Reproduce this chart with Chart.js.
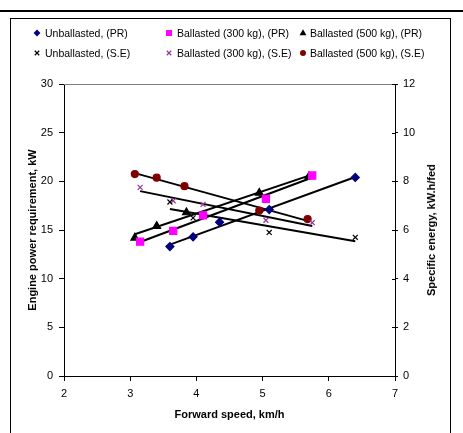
<!DOCTYPE html>
<html><head><meta charset="utf-8">
<script src="https://cdn.jsdelivr.net/npm/chart.js@4.4.1/dist/chart.umd.min.js"></script>
<style>
html,body{margin:0;padding:0;background:#fff;width:463px;height:433px;overflow:hidden;font-family:"Liberation Sans",Arial,sans-serif;}
#topline{position:absolute;left:0;top:10px;width:463px;height:2px;background:#000;}
#frame{position:absolute;left:10px;top:18px;width:439px;height:440px;border:1px solid #000;}
#wrap{position:absolute;left:0;top:0;width:463px;height:433px;}
.leg{position:absolute;font-size:10.5px;line-height:12px;color:#000;white-space:nowrap;}
#rtitle{position:absolute;font-weight:bold;font-size:11px;white-space:nowrap;color:#000;left:431px;top:230px;transform:translate(-50%,-50%) rotate(-90deg);}
</style></head>
<body>
<div id="topline"></div>
<div id="frame"></div>
<div id="wrap"><canvas id="c" width="463" height="433"></canvas></div>
<div class="leg" style="left:45px;top:27px">Unballasted, (PR)</div>
<div class="leg" style="left:177px;top:27px">Ballasted (300 kg), (PR)</div>
<div class="leg" style="left:310px;top:27px">Ballasted (500 kg), (PR)</div>
<div class="leg" style="left:45px;top:47px">Unballasted, (S.E)</div>
<div class="leg" style="left:177px;top:47px">Ballasted (300 kg), (S.E)</div>
<div class="leg" style="left:310px;top:47px">Ballasted (500 kg), (S.E)</div>
<div id="rtitle">Specific energy, kW.h/fed</div>
<script>
// ---- data ----
const xTicks = [2, 3, 4, 5, 6, 7];
const powerTicks = [0, 5, 10, 15, 20, 25, 30];
const energyTicks = [0, 2, 4, 6, 8, 10, 12];

const speedUnPR   = [3.6, 3.95, 4.35, 5.1, 6.4];
const powerUnPR   = [13.3, 14.3, 15.8, 17.1, 20.4];
const speed300PR  = [3.15, 3.65, 4.1, 5.05, 5.75];
const power300PR  = [13.8, 14.9, 16.5, 18.2, 20.6];
const speed500PR  = [3.07, 3.4, 3.85, 4.95, 5.7];
const power500PR  = [14.2, 15.4, 16.8, 18.8, 20.5];

const speedUnSE   = [3.6, 3.95, 5.1, 6.4];
const energyUnSE  = [7.15, 6.5, 5.9, 5.7];
const speed300SE  = [3.15, 3.65, 4.1, 5.05, 5.75];
const energy300SE = [7.75, 7.2, 7.05, 6.4, 6.3];
const speed500SE  = [3.07, 3.4, 3.82, 4.95, 5.68];
const energy500SE = [8.3, 8.15, 7.8, 6.8, 6.45];

const seriesNames = ['Unballasted, (PR)','Ballasted (300 kg), (PR)','Ballasted (500 kg), (PR)',
                     'Unballasted, (S.E)','Ballasted (300 kg), (S.E)','Ballasted (500 kg), (S.E)'];

// ---- helpers ----
function pts(xs, ys){ return xs.map((x,i)=>({x:x, y:ys[i]})); }
function trend(xs, ys){
  const n = xs.length;
  let sx=0, sy=0, sxx=0, sxy=0;
  for(let i=0;i<n;i++){ sx+=xs[i]; sy+=ys[i]; sxx+=xs[i]*xs[i]; sxy+=xs[i]*ys[i]; }
  const b = (n*sxy - sx*sy)/(n*sxx - sx*sx);
  const a = (sy - b*sx)/n;
  const x0 = Math.min(...xs), x1 = Math.max(...xs);
  return [{x:x0, y:a+b*x0}, {x:x1, y:a+b*x1}];
}

const FONT = '"Liberation Sans", Arial, sans-serif';
Chart.defaults.font.family = FONT;
Chart.defaults.font.size = 11;
Chart.defaults.color = '#000';

const series = [
  {xs:speedUnPR, ys:powerUnPR, axis:'y', style:'rectRot', r:4, c:'#000080'},
  {xs:speed300PR, ys:power300PR, axis:'y', style:'rect', r:5, c:'#FF00FF'},
  {xs:speed500PR, ys:power500PR, axis:'y', style:'triangle', r:4.5, c:'#000000'},
  {xs:speedUnSE, ys:energyUnSE, axis:'y2', style:'crossRot', r:3.5, c:'#000000'},
  {xs:speed300SE, ys:energy300SE, axis:'y2', style:'crossRot', r:3.5, c:'#993399'},
  {xs:speed500SE, ys:energy500SE, axis:'y2', style:'circle', r:3.5, c:'#800000'}
];

const datasets = [];
series.forEach((s,i)=>{
  datasets.push({
    type:'scatter', label:seriesNames[i], data:pts(s.xs,s.ys), yAxisID:s.axis,
    pointStyle:s.style, pointRadius:s.r, pointBackgroundColor:s.c, pointBorderColor:s.c,
    pointBorderWidth:1.2, showLine:false
  });
});
series.forEach((s,i)=>{
  datasets.push({
    type:'line', label:seriesNames[i]+' trend', data:trend(s.xs,s.ys), yAxisID:s.axis,
    borderColor:'#000', borderWidth:2, pointRadius:0, fill:false, tension:0
  });
});

function drawMarker(ctx, style, x, y, r, c){
  ctx.save();
  ctx.fillStyle=c; ctx.strokeStyle=c; ctx.lineWidth=1.2;
  ctx.beginPath();
  if(style==='rectRot'){ ctx.moveTo(x,y-r);ctx.lineTo(x+r,y);ctx.lineTo(x,y+r);ctx.lineTo(x-r,y);ctx.closePath();ctx.fill(); }
  else if(style==='rect'){ ctx.rect(x-r*0.7,y-r*0.7,r*1.4,r*1.4); ctx.fill(); }
  else if(style==='triangle'){ ctx.moveTo(x,y-r);ctx.lineTo(x+r*0.9,y+r*0.6);ctx.lineTo(x-r*0.9,y+r*0.6);ctx.closePath();ctx.fill(); }
  else if(style==='crossRot'){ const d=r*0.75; ctx.moveTo(x-d,y-d);ctx.lineTo(x+d,y+d);ctx.moveTo(x+d,y-d);ctx.lineTo(x-d,y+d);ctx.stroke(); }
  else if(style==='circle'){ ctx.arc(x,y,r,0,Math.PI*2); ctx.fill(); }
  ctx.restore();
}

const extras = {
  id:'extras',
  afterDraw(chart){
    const ctx = chart.ctx, a = chart.chartArea;
    // top border of plot area
    ctx.save();
    ctx.strokeStyle='#808080'; ctx.lineWidth=1;
    ctx.beginPath(); ctx.moveTo(a.left, a.top+0.5); ctx.lineTo(a.right, a.top+0.5); ctx.stroke();
    // inward tick marks of right axis (cross ticks)
    const y2 = chart.scales.y2;
    ctx.strokeStyle='#000';
    energyTicks.forEach(v=>{
      const py = Math.round(y2.getPixelForValue(v))+0.5;
      ctx.beginPath(); ctx.moveTo(a.right-3, py); ctx.lineTo(a.right, py); ctx.stroke();
    });
    ctx.restore();
    // legend markers
    const lx=[37,169,303], ly=[33,53];
    series.forEach((s,i)=>{
      drawMarker(ctx, s.style, lx[i%3], ly[Math.floor(i/3)], s.r*0.85, s.c);
    });
  }
};

new Chart(document.getElementById('c'), {
  data:{datasets:datasets},
  options:{
    responsive:false, animation:false,
    layout:{padding:{top:84,left:0,right:0,bottom:0}},
    plugins:{legend:{display:false}, tooltip:{enabled:false}},
    scales:{
      x:{type:'linear', position:'bottom', min:2, max:7,
        afterBuildTicks(s){ s.ticks = xTicks.map(v=>({value:v})); },
        ticks:{color:'#000', padding:6, maxRotation:0, font:{size:11}},
        grid:{drawOnChartArea:false, drawTicks:true, tickLength:5, color:'#000'},
        border:{display:true, color:'#000', width:1},
        title:{display:true, text:'Forward speed, km/h', color:'#000', font:{size:11, weight:'bold'}, padding:{top:0,bottom:11}},
        afterFit(s){ s.height = 57; }
      },
      y:{type:'linear', position:'left', min:0, max:30,
        afterBuildTicks(s){ s.ticks = powerTicks.map(v=>({value:v})); },
        ticks:{color:'#000', padding:6, font:{size:11}},
        grid:{drawOnChartArea:false, drawTicks:true, tickLength:5, color:'#000'},
        border:{display:true, color:'#000', width:1},
        title:{display:true, text:'Engine power requirement, kW', color:'#000', font:{size:11, weight:'bold'}, padding:{top:26,bottom:0}},
        afterFit(s){ s.width = 64; }
      },
      y2:{type:'linear', position:'right', min:0, max:12,
        afterBuildTicks(s){ s.ticks = energyTicks.map(v=>({value:v})); },
        ticks:{color:'#000', padding:5, font:{size:11}},
        grid:{drawOnChartArea:false, drawTicks:true, tickLength:3, color:'#000'},
        border:{display:true, color:'#000', width:1},
        title:{display:false},
        afterFit(s){ s.width = 68; }
      }
    }
  },
  plugins:[extras]
});
</script>
</body></html>
